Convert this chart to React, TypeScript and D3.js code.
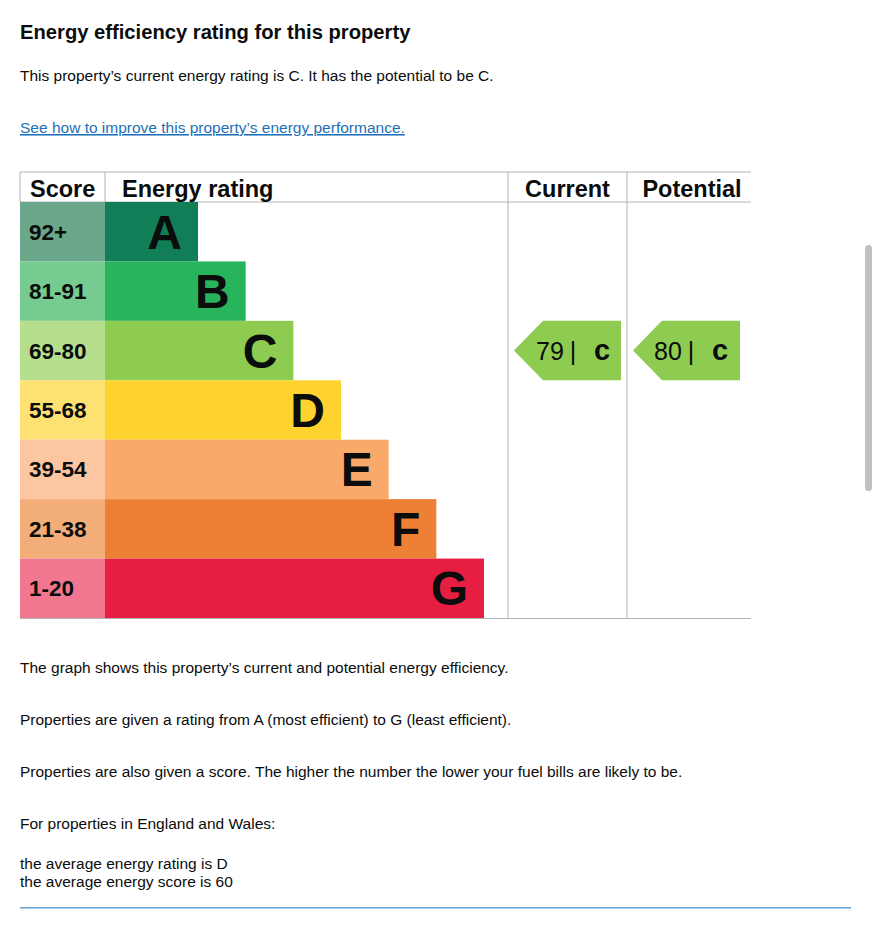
import React, { useEffect } from "react";
import * as d3 from "d3";

const ratings = ["A", "B", "C", "D", "E", "F", "G"];
const scoreRanges = ["92+", "81-91", "69-80", "55-68", "39-54", "21-38", "1-20"];
const barColors = ["#117e57", "#28b45c", "#8ecb51", "#fed330", "#f9aa6b", "#ee8035", "#e61e42"];
const scoreColors = ["#6ba78a", "#75cb90", "#b6df8d", "#fde173", "#fcc6a0", "#f2ad78", "#f17790"];
const barSteps = [1, 2, 3, 4, 5, 6, 7];
const currentScore = 79;
const currentRating = "C";
const potentialScore = 80;
const potentialRating = "C";

const FONT = "'Liberation Sans', Arial, Helvetica, sans-serif";
const GRID = "#b1b4b6";

export default function App() {
  useEffect(() => {
    document.body.style.margin = "0";
  }, []);

  const W = 873;
  const H = 925;
  const left = 20;
  const scoreRight = 105;
  const ratingRight = 508;
  const currentRight = 627;
  const potentialRight = 751;
  const headTop = 172;
  const headBottom = 202;
  const chartBottom = 618;

  const y = d3.scaleBand<string>().domain(ratings).range([headBottom, chartBottom]).padding(0);
  const barX = d3.scaleLinear().domain([1, 7]).range([198, 484]);
  const bw = y.bandwidth();

  const arrow = (x0: number, x1: number, rating: string) => {
    const top = y(rating)!;
    const mid = top + bw / 2;
    const tipW = 29;
    return d3.line()([
      [x0, mid],
      [x0 + tipW, top],
      [x1, top],
      [x1, top + bw],
      [x0 + tipW, top + bw],
      [x0, mid],
    ]) as string;
  };

  const bodyText = [
    { t: "The graph shows this property\u2019s current and potential energy efficiency.", y: 673 },
    { t: "Properties are given a rating from A (most efficient) to G (least efficient).", y: 725 },
    { t: "Properties are also given a score. The higher the number the lower your fuel bills are likely to be.", y: 777 },
    { t: "For properties in England and Wales:", y: 829 },
    { t: "the average energy rating is D", y: 869 },
    { t: "the average energy score is 60", y: 887 },
  ];

  const colorOf = (r: string) => barColors[ratings.indexOf(r)];

  const label = (x: number, score: number, rating: string) => (
    <g>
      <text x={x} y={y(rating)! + bw / 2 + 9} fontSize={25} fill="#0b0c0c">
        {score}
      </text>
      <text x={x + 37} y={y(rating)! + bw / 2 + 9} fontSize={25} textAnchor="middle" fill="#0b0c0c">
        |
      </text>
      <text x={x + 58} y={y(rating)! + bw / 2 + 9} fontSize={29} fontWeight="bold" fill="#0b0c0c">
        {rating.toLowerCase()}
      </text>
    </g>
  );

  return (
    <svg width={W} height={H} style={{ display: "block" }} fontFamily={FONT}>
      <rect width={W} height={H} fill="#fff" />
      <text x={20} y={39} fontSize={20.2} fontWeight="bold" fill="#0b0c0c">
        Energy efficiency rating for this property
      </text>
      <text x={20} y={81} fontSize={15.5} fill="#0b0c0c">
        This property’s current energy rating is C. It has the potential to be C.
      </text>
      <text x={20} y={133} fontSize={15.5} fill="#1d70b8" textDecoration="underline">
        See how to improve this property’s energy performance.
      </text>

      {/* header */}
      <line x1={left} x2={potentialRight} y1={headTop} y2={headTop} stroke={GRID} />
      <line x1={left} x2={potentialRight} y1={headBottom} y2={headBottom} stroke={GRID} />
      <line x1={left} x2={left} y1={headTop} y2={headBottom} stroke={GRID} />
      <line x1={scoreRight} x2={scoreRight} y1={headTop} y2={headBottom} stroke={GRID} />
      <line x1={ratingRight} x2={ratingRight} y1={headTop} y2={chartBottom} stroke={GRID} />
      <line x1={currentRight} x2={currentRight} y1={headTop} y2={chartBottom} stroke={GRID} />
      <line x1={left} x2={potentialRight} y1={chartBottom + 0.5} y2={chartBottom + 0.5} stroke={GRID} />
      <text x={30} y={197} fontSize={23.5} fontWeight="bold" fill="#0b0c0c">Score</text>
      <text x={122} y={197} fontSize={23.5} fontWeight="bold" fill="#0b0c0c">Energy rating</text>
      <text x={(ratingRight + currentRight) / 2} y={197} fontSize={23.5} fontWeight="bold" textAnchor="middle" fill="#0b0c0c">Current</text>
      <text x={(currentRight + potentialRight) / 2 + 3} y={197} fontSize={23.5} fontWeight="bold" textAnchor="middle" fill="#0b0c0c">Potential</text>

      {ratings.map((r, i) => {
        const top = y(r)!;
        const right = barX(barSteps[i]);
        return (
          <g key={r}>
            <rect x={left} y={top} width={scoreRight - left} height={bw} fill={scoreColors[i]} />
            <rect x={scoreRight} y={top} width={right - scoreRight} height={bw} fill={barColors[i]} />
            <text x={29} y={top + bw / 2 + 8} fontSize={22.5} fontWeight="bold" fill="#0b0c0c">
              {scoreRanges[i]}
            </text>
            <text x={right - 16} y={top + bw / 2 + 17} fontSize={48} fontWeight="bold" textAnchor="end" fill="#0b0c0c">
              {r}
            </text>
          </g>
        );
      })}

      <path d={arrow(514, 621, currentRating)} fill={colorOf(currentRating)} />
      {label(536, currentScore, currentRating)}
      <path d={arrow(633, 740, potentialRating)} fill={colorOf(potentialRating)} />
      {label(654, potentialScore, potentialRating)}

      {bodyText.map((b) => (
        <text key={b.t} x={20} y={b.y} fontSize={15.5} fill="#0b0c0c">
          {b.t}
        </text>
      ))}
      <rect x={20} y={907} width={831} height={1.6} fill="#6ea6d6" />

      <rect x={865} y={245} width={7} height={246} rx={3.5} fill="#c1c1c1" />
    </svg>
  );
}
